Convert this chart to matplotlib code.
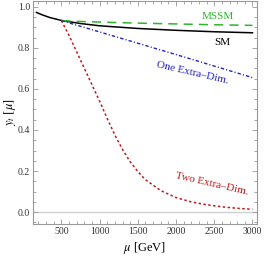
import matplotlib
matplotlib.use("Agg")
import matplotlib.pyplot as plt
from matplotlib.ticker import MultipleLocator

plt.rcParams['font.family'] = ['Liberation Serif', 'DejaVu Serif']
plt.rcParams['mathtext.fontset'] = 'stix'

# running top Yukawa coupling
mu_sm = [173, 250, 350, 500, 750, 1000, 1500, 2000, 2500, 3000]
yt_sm = [0.972, 0.960, 0.947, 0.933, 0.918, 0.907, 0.894, 0.885, 0.878, 0.873]

mu_mssm = [500, 750, 1000, 1500, 2000, 2500, 3000]
yt_mssm = [0.932, 0.928, 0.925, 0.920, 0.916, 0.912, 0.909]

mu_one = [500, 1000, 1500, 2000, 2500, 3000]
yt_one = [0.932, 0.877, 0.822, 0.767, 0.711, 0.655]

mu_two = [500, 600, 700, 800, 900, 1000, 1100, 1200, 1300, 1400, 1500, 1600,
          1800, 2000, 2200, 2400, 2600, 2800, 3000]
yt_two = [0.932, 0.860, 0.780, 0.700, 0.620, 0.540, 0.455, 0.375, 0.305, 0.245,
          0.198, 0.158, 0.105, 0.071, 0.050, 0.036, 0.026, 0.019, 0.014]

green = '#2db52d'
blue = '#2424c0'
red = '#c01a1a'

fig = plt.figure(figsize=(2.65, 2.57), dpi=100)
ax = fig.add_axes([0.1245, 0.128, 0.8455, 0.870])

ax.axhline(0, color='#d0d0d0', lw=1.0, zorder=0)
ax.plot(mu_sm, yt_sm, color='black', lw=1.1)
ax.plot(mu_mssm, yt_mssm, color=green, lw=1.1, dashes=(6, 4))
ax.plot(mu_one, yt_one, color=blue, lw=1.0, dashes=(2.5, 1.5, 0.8, 1.5))
ax.plot(mu_two, yt_two, color=red, lw=1.1, dashes=(1.6, 1.6))

ax.text(2540, 0.951, 'MSSM', color=green, fontsize=8, ha='center', va='center')
ax.text(2605, 0.825, 'SM', color='black', fontsize=8, ha='center', va='center')
ax.text(2212, 0.68, 'One Extra\u2013Dim.', color=blue, fontsize=8,
        ha='center', va='center', rotation=-13)
ax.text(2474, 0.136, 'Two Extra\u2013Dim.', color=red, fontsize=8,
        ha='center', va='center', rotation=-13)

ax.set_xlim(128, 3060)
ax.set_ylim(-0.058, 1.03)
ax.xaxis.set_major_locator(MultipleLocator(500))
ax.xaxis.set_minor_locator(MultipleLocator(100))
ax.yaxis.set_major_locator(MultipleLocator(0.2))
ax.yaxis.set_minor_locator(MultipleLocator(0.05))
ax.yaxis.set_major_formatter(matplotlib.ticker.FormatStrFormatter('%.1f'))

for s in ax.spines.values():
    s.set_color('#999999')
    s.set_linewidth(0.8)
ax.tick_params(which='both', direction='in', top=True, right=True,
               color='#999999', width=0.6, labelsize=7, labelcolor='#333333', pad=2)
ax.tick_params(which='major', length=3.5)
ax.tick_params(which='minor', length=2)

ax.set_xlabel(r'$\mu$ [GeV]', fontsize=9, labelpad=3)
ax.set_ylabel(r'$y_t\ [\mu]$', fontsize=9, labelpad=0)

fig.savefig('out.png', dpi=100)
